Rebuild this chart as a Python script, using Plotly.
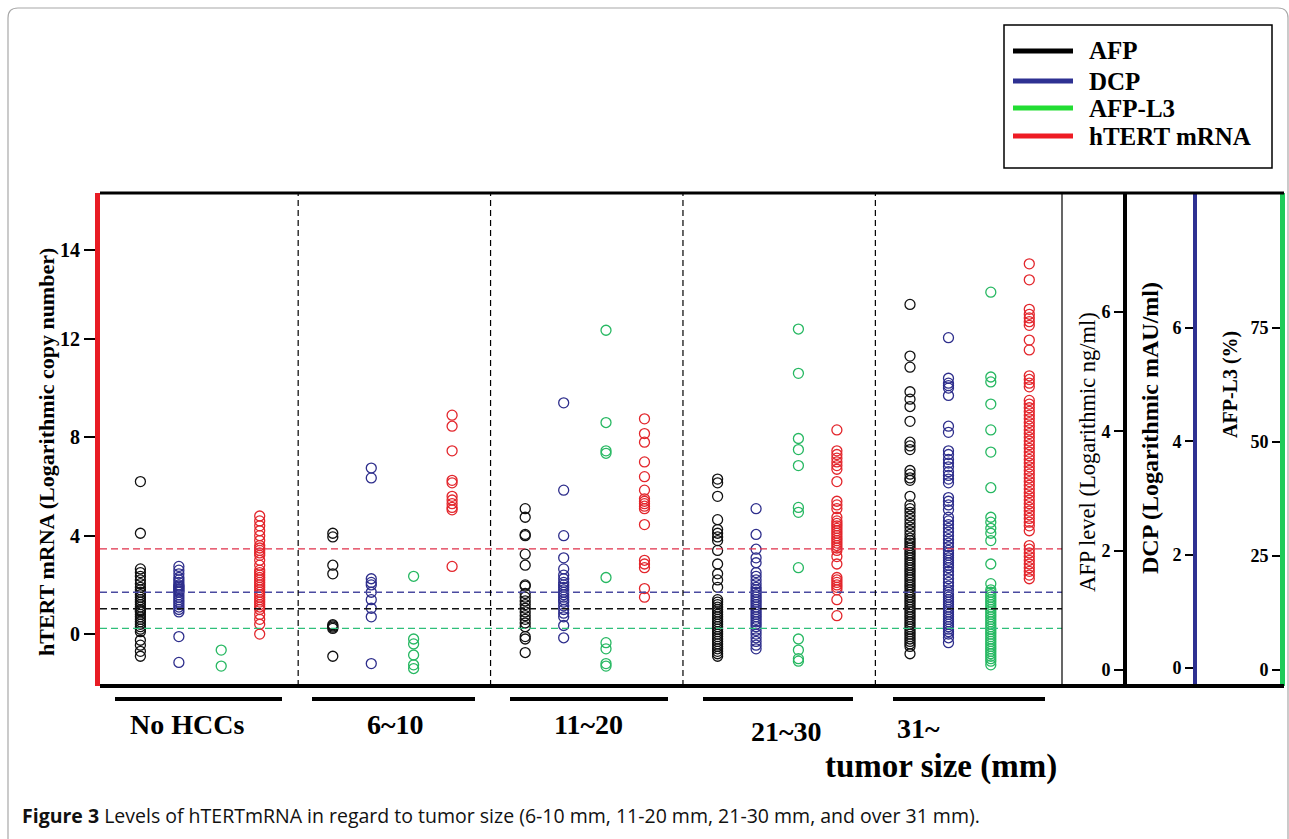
import plotly.graph_objects as go

W, H = 1289, 839


def fx(p):
    return p / W


def fy(p):
    return 1 - p / H


# ---------------- data ----------------
groups = ["No HCCs", "6~10", "11~20", "21~30", "31~"]

# values on the hTERT (left) axis scale, one list per tumour-size group
afp_vals = [
    [6.2, 4.1, 2.65, 2.5, 2.35, 2.2, 2.05, 1.9, 1.8, 1.7, 1.6, 1.5, 1.4, 1.3, 1.2, 1.1, 1.0, 0.95, 0.9,
     0.8, 0.7, 0.6, 0.5, 0.4, 0.3, 0.2, 0.1, -0.25, -0.45, -0.7, -0.9],
    [4.1, 3.95, 2.8, 2.45, 0.38, 0.33, 0.28, 0.23, -0.9],
    [5.1, 4.75, 4.05, 4.0, 3.25, 2.8, 2.0, 1.95, 1.65, 1.5, 1.35, 1.2, 1.05, 0.9, 0.75, 0.6, 0.45, 0.3,
     -0.1, -0.2, -0.75],
    [6.3, 6.15, 5.6, 4.65, 4.25, 4.1, 3.95, 3.8, 3.4, 2.85, 2.45, 2.2, 1.9, 1.4, 1.3, 1.2, 1.1, 1.0, 0.9,
     0.8, 0.7, 0.6, 0.5, 0.4, 0.3, 0.2, 0.1, 0.0, -0.1, -0.2, -0.3, -0.4, -0.5, -0.6, -0.7, -0.8, -0.9],
    [13.4, 11.3, 10.85, 9.85, 9.55, 9.25, 8.65, 7.8, 7.65, 7.5, 6.65, 6.5, 6.35, 6.25, 5.6, 5.25, 5.1,
     4.95, 4.8, 4.65, 4.5, 4.35, 4.2, 4.05, 3.9, 3.8, 3.7, 3.6, 3.5, 3.4, 3.3, 3.2, 3.1, 3.0, 2.9, 2.8,
     2.7, 2.6, 2.5, 2.4, 2.3, 2.2, 2.1, 2.0, 1.9, 1.8, 1.7, 1.6, 1.5, 1.4, 1.3, 1.2, 1.1, 1.0, 0.9, 0.8,
     0.7, 0.6, 0.5, 0.4, 0.3, 0.2, 0.1, 0.0, -0.1, -0.2, -0.3, -0.4, -0.5, -0.8],
]

dcp_vals = [
    [2.75, 2.6, 2.45, 2.3, 2.2, 2.1, 2.0, 1.95, 1.9, 1.85, 1.8, 1.75, 1.7, 1.6, 1.5, 1.4, 1.3, 1.2, 1.1,
     1.0, 0.9, -0.1, -1.15],
    [6.75, 6.35, 2.25, 2.1, 2.0, 1.7, 1.4, 1.05, 0.7, -1.2],
    [9.4, 5.85, 4.0, 3.1, 2.65, 2.4, 2.25, 2.1, 2.0, 1.9, 1.8, 1.7, 1.6, 1.5, 1.4, 1.3, 1.15, 1.0, 0.85,
     0.7, 0.35, -0.15],
    [5.1, 4.05, 3.45, 3.1, 2.9, 2.5, 2.35, 2.2, 2.05, 1.9, 1.8, 1.7, 1.6, 1.5, 1.4, 1.3, 1.2, 1.1, 1.0,
     0.9, 0.8, 0.7, 0.6, 0.5, 0.4, 0.3, 0.15, 0.0, -0.15, -0.3, -0.45, -0.6],
    [12.05, 10.4, 10.2, 10.1, 10.0, 9.7, 8.45, 8.2, 7.45, 7.3, 7.1, 6.95, 6.8, 6.6, 6.45, 6.3, 6.15,
     5.55, 5.4, 5.25, 5.05, 4.75, 4.6, 4.45, 4.3, 4.15, 4.0, 3.85, 3.7, 3.55, 3.4, 3.3, 3.2, 3.1, 3.0,
     2.9, 2.8, 2.7, 2.55, 2.4, 2.25, 2.1, 1.95, 1.8, 1.7, 1.6, 1.5, 1.4, 1.3, 1.2, 1.1, 1.0, 0.9, 0.8,
     0.7, 0.6, 0.5, 0.4, 0.3, 0.2, 0.1, 0.0, -0.15, -0.35],
]

afpl3_vals = [
    [-0.65, -1.3],
    [2.35, -0.2, -0.4, -0.85, -1.25, -1.4],
    [12.35, 8.6, 7.45, 7.35, 2.3, -0.35, -0.6, -1.2, -1.3],
    [12.4, 10.6, 7.95, 7.5, 6.85, 5.15, 4.95, 2.7, -0.2, -0.65, -1.0, -1.1],
    [13.9, 10.45, 10.25, 9.35, 8.3, 7.4, 5.95, 4.75, 4.55, 4.3, 4.1, 3.8, 2.85, 2.05, 1.8, 1.7, 1.6,
     1.5, 1.4, 1.3, 1.2, 1.1, 1.0, 0.9, 0.8, 0.7, 0.6, 0.5, 0.4, 0.3, 0.2, 0.1, 0.0, -0.1, -0.2, -0.3,
     -0.4, -0.5, -0.6, -0.7, -0.8, -0.9, -1.0, -1.1, -1.25],
]

htert_vals = [
    [4.8, 4.6, 4.4, 4.2, 4.0, 3.8, 3.6, 3.5, 3.4, 3.3, 3.2, 3.0, 2.8, 2.6, 2.5, 2.4, 2.3, 2.2, 2.1, 2.0,
     1.9, 1.8, 1.7, 1.6, 1.5, 1.4, 1.3, 1.2, 1.1, 1.0, 0.8, 0.6, 0.4, 0.0],
    [8.9, 8.45, 7.45, 6.25, 6.15, 5.6, 5.45, 5.3, 5.15, 5.05, 2.75],
    [8.75, 8.15, 7.8, 7.0, 6.4, 5.85, 5.5, 5.4, 5.3, 5.2, 5.1, 4.45, 3.0, 2.85, 2.7, 1.85, 1.5],
    [8.3, 7.45, 7.3, 7.15, 7.0, 6.85, 6.7, 6.2, 5.4, 5.25, 5.1, 4.75, 4.6, 4.5, 4.4, 4.3, 4.2, 4.1, 4.0,
     3.9, 3.8, 3.7, 3.6, 3.5, 3.4, 3.15, 2.85, 2.3, 2.2, 2.1, 2.0, 1.9, 1.8, 1.4, 0.75],
    [15.05, 14.4, 13.2, 13.0, 12.85, 12.7, 12.55, 11.95, 11.55, 10.5, 10.35, 10.2, 10.05, 9.5, 9.35,
     9.2, 9.05, 8.9, 8.75, 8.6, 8.45, 8.3, 8.15, 8.0, 7.85, 7.7, 7.55, 7.4, 7.25, 7.1, 6.95, 6.8, 6.65,
     6.5, 6.35, 6.2, 6.05, 5.9, 5.75, 5.6, 5.45, 5.3, 5.15, 5.0, 4.85, 4.7, 4.55, 4.4, 4.2, 3.6, 3.45,
     3.3, 3.15, 3.0, 2.85, 2.7, 2.55, 2.4, 2.25],
]

series_names = ["AFP", "DCP", "AFP-L3", "hTERT mRNA"]
series_values = [afp_vals, dcp_vals, afpl3_vals, htert_vals]
marker_colors = ["#111111", "#2e2e8c", "#27b862", "#e3262c"]
legend_colors = ["#000000", "#2e3192", "#22dd33", "#ee1c24"]

# cut-off levels drawn as dashed lines (on the hTERT axis scale)
cutoff_values = [3.46, 1.70, 1.03, 0.23]
cutoff_colors = ["#e0304a", "#4a4aa0", "#111111", "#2fbf7a"]

# left axis tick labels (axis is not uniform above 12)
left_tickvals = [0, 4, 8, 12, 15.6]
left_ticktext = ["0", "4", "8", "12", "14"]
afp_ticks = [0, 2, 4, 6]
dcp_ticks = [0, 2, 4, 6]
l3_ticks = [0, 25, 50, 75]

col_offsets = [-0.32, -0.12, 0.10, 0.30]

# ---------------- figure ----------------
fig = go.Figure()
for name, vals, col, off in zip(series_names, series_values, marker_colors, col_offsets):
    xs, ys = [], []
    for gi, gv in enumerate(vals):
        for v in gv:
            xs.append(gi + off)
            ys.append(v)
    fig.add_trace(go.Scatter(
        x=xs, y=ys, mode="markers", name=name, showlegend=False,
        marker=dict(symbol="circle-open", size=10, color=col, line=dict(width=1.3)),
    ))

# empty traces so that the three extra scales are drawn
for ax in ["y2", "y3", "y4"]:
    fig.add_trace(go.Scatter(x=[None], y=[None], yaxis=ax, mode="markers", showlegend=False,
                             hoverinfo="skip"))

serif = "Liberation Serif"
left_tickfont = dict(family=serif, size=20, color="black", weight="bold")
right_tickfont = dict(family=serif, size=18, color="black", weight="bold")
ydom = [fy(686), fy(193)]

common_y = dict(showgrid=False, zeroline=False, ticks="outside", tickwidth=2, tickcolor="black",
                showline=True)

fig.update_layout(
    width=W, height=H,
    margin=dict(l=0, r=0, t=0, b=0),
    paper_bgcolor="white", plot_bgcolor="white",
    xaxis=dict(domain=[fx(100), fx(1062)], range=[-0.53, 4.47], showticklabels=False,
               showgrid=False, zeroline=False, showline=False, ticks=""),
    yaxis=dict(domain=ydom, range=[-2.11, 17.93], tickvals=left_tickvals, ticktext=left_ticktext,
               ticklen=11, linecolor="#e81c24", linewidth=5, tickfont=left_tickfont, **common_y),
    yaxis2=dict(overlaying="y", anchor="free", position=fx(1125), side="left",
                range=[-0.268, 7.994], tickvals=afp_ticks, ticklen=9, linecolor="black",
                linewidth=4, tickfont=right_tickfont, **common_y),
    yaxis3=dict(overlaying="y", anchor="free", position=fx(1195), side="left",
                range=[-0.318, 8.382], tickvals=dcp_ticks, ticklen=8, linecolor="#2e3192",
                linewidth=4, tickfont=right_tickfont, **common_y),
    yaxis4=dict(overlaying="y", anchor="free", position=fx(1282), side="left",
                range=[-3.51, 104.6], tickvals=l3_ticks, ticklen=8, linecolor="#1ecb5a",
                linewidth=5, tickfont=right_tickfont, **common_y),
)

shapes = []
# outer light frame
shapes.append(dict(type="path", xref="paper", yref="paper",
                   path=f"M {fx(8)},{fy(845)} L {fx(8)},{fy(18)} Q {fx(8)},{fy(8)} {fx(18)},{fy(8)} "
                        f"L {fx(1278)},{fy(8)} Q {fx(1288)},{fy(8)} {fx(1288)},{fy(18)} L {fx(1288)},{fy(845)}",
                   line=dict(color="#a8a8a8", width=1.2)))
# cutoff lines
for v, c in zip(cutoff_values, cutoff_colors):
    shapes.append(dict(type="line", xref="x domain", yref="y", x0=0, x1=1, y0=v, y1=v,
                       line=dict(color=c, width=1.3, dash="7px,4px"), layer="above"))
# group dividers
for k in range(len(groups) - 1):
    shapes.append(dict(type="line", xref="x", yref="y domain", x0=k + 0.5, x1=k + 0.5, y0=0, y1=1,
                       line=dict(color="black", width=1.2, dash="6px,4px")))
# right edge of main panel
shapes.append(dict(type="line", xref="x domain", yref="y domain", x0=1, x1=1, y0=0, y1=1,
                   line=dict(color="black", width=1.2)))
# top and bottom frame lines
shapes.append(dict(type="line", xref="paper", yref="paper", x0=fx(100), x1=fx(1284),
                   y0=fy(193), y1=fy(193), line=dict(color="black", width=3), layer="above"))
shapes.append(dict(type="line", xref="paper", yref="paper", x0=fx(100), x1=fx(1284),
                   y0=fy(686), y1=fy(686), line=dict(color="black", width=4), layer="above"))
# group underline bars
bars = [(115, 282), (312, 475), (510, 668), (703, 853), (893, 1045)]
for a, b in bars:
    shapes.append(dict(type="line", xref="paper", yref="paper", x0=fx(a), x1=fx(b),
                       y0=fy(699), y1=fy(699), line=dict(color="black", width=4)))
# legend box
shapes.append(dict(type="rect", xref="paper", yref="paper", x0=fx(1004), x1=fx(1272),
                   y0=fy(168), y1=fy(25), line=dict(color="black", width=1.5)))
legend_y = [51, 81, 108, 136]
for yy, c in zip(legend_y, legend_colors):
    shapes.append(dict(type="line", xref="paper", yref="paper", x0=fx(1013), x1=fx(1073),
                       y0=fy(yy), y1=fy(yy), line=dict(color=c, width=5)))

annotations = []


def note(x, y, text, size, family=serif, angle=0, xanchor="center", color="black"):
    annotations.append(dict(xref="paper", yref="paper", x=fx(x), y=fy(y), text=text,
                            xanchor=xanchor, yanchor="middle", textangle=angle,
                            showarrow=False, font=dict(family=family, size=size, color=color)))


for yy, name in zip(legend_y, series_names):
    note(1087, yy, f"<b>{name}</b>", 25, xanchor="left")

# axis titles
note(46, 452, "<b>hTERT mRNA (Logarithmic copy number)</b>", 22, angle=-90)
note(1087, 452, "AFP level (Logarithmic ng/ml)", 22.5, angle=-90)
note(1150, 428, "<b>DCP (Logarithmic mAU/ml)</b>", 24, angle=-90)
note(1230, 385, "<b>AFP-L3 (%)</b>", 20, angle=-90)

# group labels
label_pos = [(187, 724), (395, 724), (588, 724), (786, 731), (918, 728)]
for (lx, ly), g in zip(label_pos, groups):
    note(lx, ly, f"<b>{g}</b>", 28)
note(941, 766, "<b>tumor size (mm)</b>", 33)

# caption
note(20, 815, "<b>Figure 3</b> Levels of hTERTmRNA in regard to tumor size "
              "(6-10 mm, 11-20 mm, 21-30 mm, and over 31 mm).",
     19.5, family="Open Sans", xanchor="left", color="#111111")

fig.update_layout(shapes=shapes, annotations=annotations)
fig.write_html("out.html", config={"displayModeBar": False},
               post_script="document.body.style.margin='0';")
